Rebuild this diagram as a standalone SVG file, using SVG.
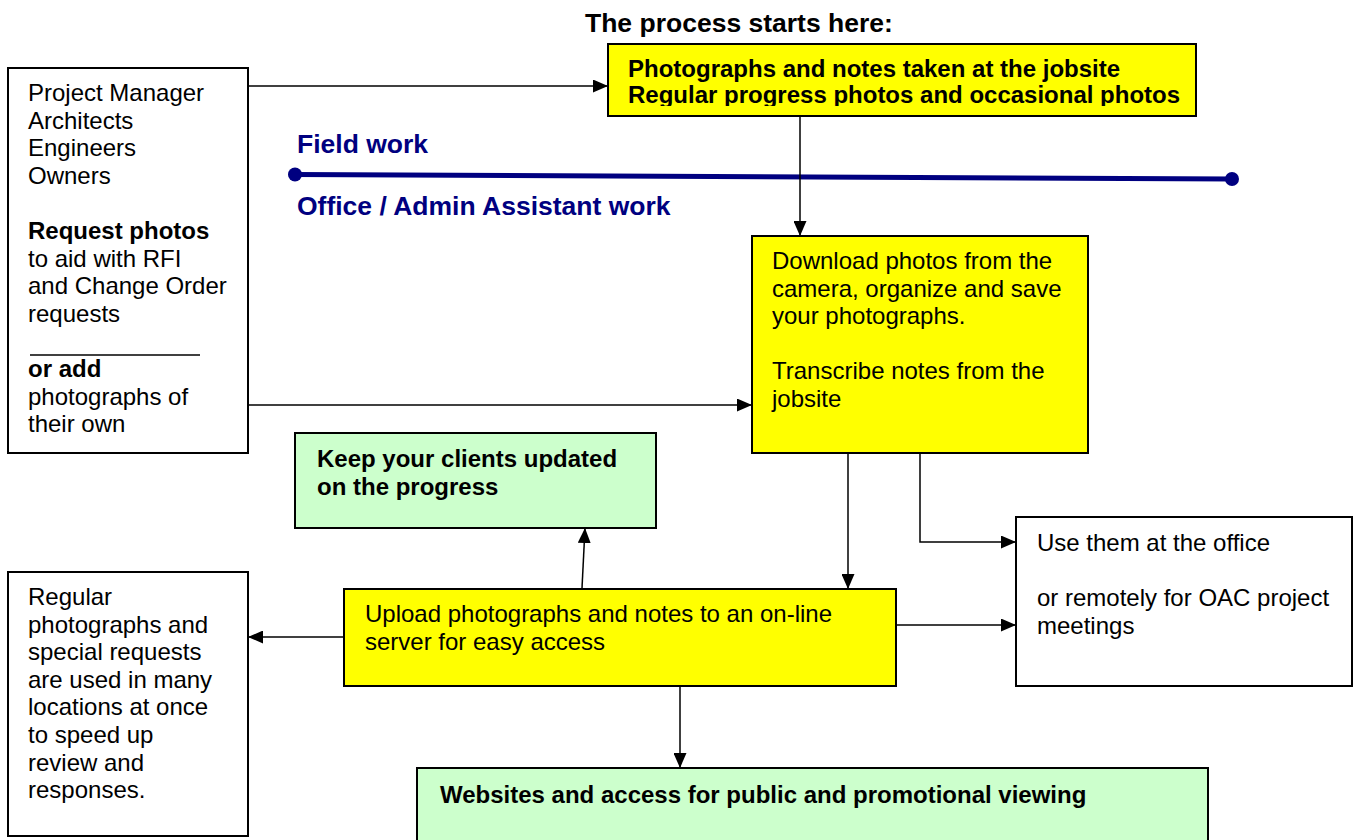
<svg xmlns="http://www.w3.org/2000/svg" width="1353" height="840" viewBox="0 0 1353 840">
<defs>
<style>
.box{stroke:#000;stroke-width:2}
.w{fill:#fff}
.y{fill:#ffff00}
.g{fill:#ccffcc}
.t{font-family:"Liberation Sans",Arial,sans-serif;font-size:24px;fill:#000}
.b{font-weight:bold}
.navy{font-family:"Liberation Sans",Arial,sans-serif;font-size:26.5px;font-weight:bold;fill:#000080}
.c{stroke:#000;stroke-width:1.5;fill:none}
</style>
<marker id="ah" viewBox="0 0 15 13" refX="15" refY="6.5" markerWidth="15" markerHeight="13" markerUnits="userSpaceOnUse" orient="auto">
<path d="M0,0 L15,6.5 L0,13 Z" fill="#000"/>
</marker>
<clipPath id="clipTop"><rect x="609" y="45" width="586" height="61"/></clipPath>
</defs>
<rect width="1353" height="840" fill="#fff"/>

<text class="t b" x="585" y="32" style="font-size:26.5px">The process starts here:</text>

<g id="stakeholders">
<rect class="box w" x="8" y="68" width="240" height="385"/>
<text class="t" x="28" y="101">Project Manager</text>
<text class="t" x="28" y="128.6">Architects</text>
<text class="t" x="28" y="156.2">Engineers</text>
<text class="t" x="28" y="183.8">Owners</text>
<text class="t b" x="28" y="239">Request photos</text>
<text class="t" x="28" y="266.6">to aid with RFI</text>
<text class="t" x="28" y="294.2">and Change Order</text>
<text class="t" x="28" y="321.8">requests</text>
<line x1="30" y1="355" x2="200" y2="355" stroke="#000" stroke-width="1.6"/>
<text class="t b" x="28" y="377">or add</text>
<text class="t" x="28" y="404.6">photographs of</text>
<text class="t" x="28" y="432.2">their own</text>
</g>

<g id="jobsite">
<rect class="box y" x="608" y="44" width="588" height="72"/>
<g clip-path="url(#clipTop)">
<text class="t b" x="628" y="77">Photographs and notes taken at the jobsite</text>
<text class="t b" x="628" y="103">Regular progress photos and occasional photos</text>
</g>
</g>

<g id="divider">
<line x1="295" y1="174.5" x2="1232" y2="179" stroke="#000080" stroke-width="5"/>
<circle cx="295" cy="174.5" r="7" fill="#000080"/>
<circle cx="1232" cy="179" r="7" fill="#000080"/>
<text class="navy" x="297" y="153">Field work</text>
<text class="navy" x="297" y="215">Office / Admin Assistant work</text>
</g>

<g id="download">
<rect class="box y" x="752" y="236" width="336" height="217"/>
<text class="t" x="772" y="269">Download photos from the</text>
<text class="t" x="772" y="296.6">camera, organize and save</text>
<text class="t" x="772" y="324.2">your photographs.</text>
<text class="t" x="772" y="379.4">Transcribe notes from the</text>
<text class="t" x="772" y="407">jobsite</text>
</g>

<g id="clients">
<rect class="box g" x="295" y="433" width="361" height="95"/>
<text class="t b" x="317" y="467">Keep your clients updated</text>
<text class="t b" x="317" y="494.6">on the progress</text>
</g>

<g id="office">
<rect class="box w" x="1016" y="517" width="336" height="169"/>
<text class="t" x="1037" y="551">Use them at the office</text>
<text class="t" x="1037" y="606">or remotely for OAC project</text>
<text class="t" x="1037" y="633.6">meetings</text>
</g>

<g id="upload">
<rect class="box y" x="344" y="589" width="552" height="97"/>
<text class="t" x="365" y="622">Upload photographs and notes to an on-line</text>
<text class="t" x="365" y="649.6">server for easy access</text>
</g>

<g id="regular">
<rect class="box w" x="8" y="572" width="240" height="264"/>
<text class="t" x="28" y="605">Regular</text>
<text class="t" x="28" y="632.6">photographs and</text>
<text class="t" x="28" y="660.2">special requests</text>
<text class="t" x="28" y="687.8">are used in many</text>
<text class="t" x="28" y="715.4">locations at once</text>
<text class="t" x="28" y="743">to speed up</text>
<text class="t" x="28" y="770.6">review and</text>
<text class="t" x="28" y="798.2">responses.</text>
</g>

<g id="websites">
<rect class="box g" x="417" y="768" width="791" height="80"/>
<text class="t b" x="440" y="803">Websites and access for public and promotional viewing</text>
</g>

<g id="connectors">
<line class="c" x1="249" y1="86" x2="608" y2="86" marker-end="url(#ah)"/>
<line class="c" x1="800" y1="117" x2="800" y2="236" marker-end="url(#ah)"/>
<line class="c" x1="249" y1="405" x2="752" y2="405" marker-end="url(#ah)"/>
<line class="c" x1="848" y1="454" x2="848" y2="589" marker-end="url(#ah)"/>
<polyline class="c" points="920,454 920,542 1016,542" marker-end="url(#ah)"/>
<line class="c" x1="897" y1="625" x2="1016" y2="625" marker-end="url(#ah)"/>
<line class="c" x1="343" y1="637" x2="248" y2="637" marker-end="url(#ah)"/>
<line class="c" x1="582" y1="588" x2="585" y2="528" marker-end="url(#ah)"/>
<line class="c" x1="680" y1="687" x2="680" y2="768" marker-end="url(#ah)"/>
</g>
</svg>
